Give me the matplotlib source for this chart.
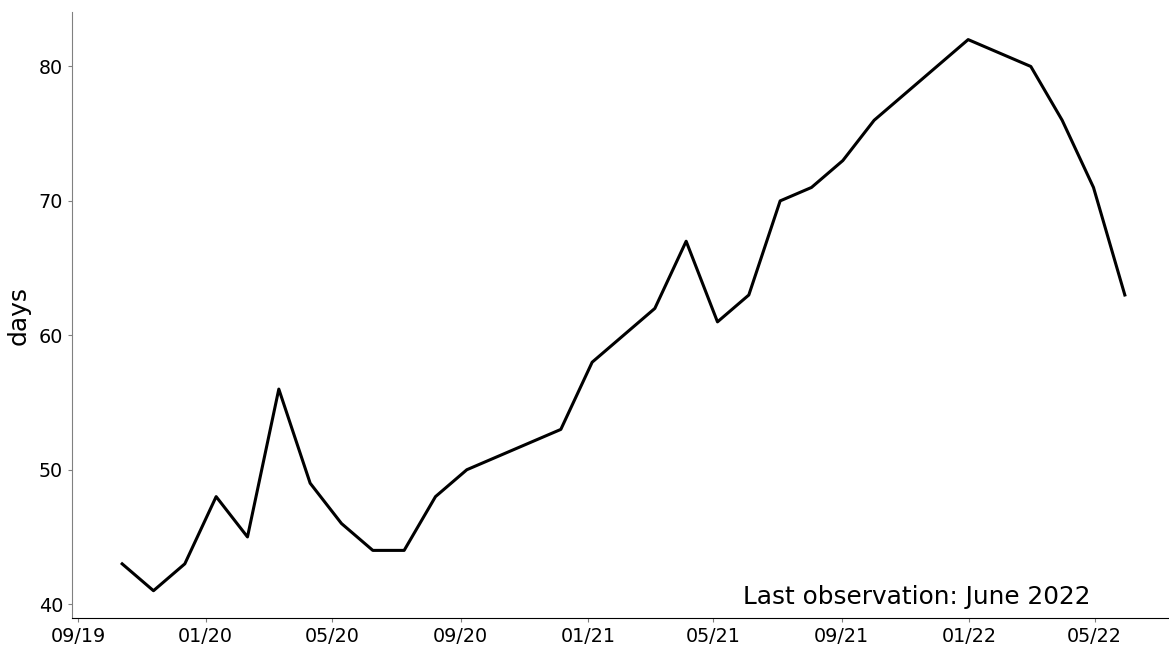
import pandas as pd
import matplotlib
matplotlib.use("Agg")
import matplotlib.pyplot as plt
import matplotlib.dates as mdates

# observations come roughly every 30 days, Oct 2019 -> Jun 2022
dates = pd.date_range("2019-10-13", periods=33, freq="30D")
days = [43, 41, 43, 48, 45, 56, 49, 46, 44, 44, 48, 50,
        51, 52, 53, 58, 60, 62, 67, 61, 63, 70, 71, 73,
        76, 78, 80, 82, 81, 80, 76, 71, 63]
note = "Last observation: June 2022"

fig = plt.figure(figsize=(11.69, 6.47), dpi=100)
ax = fig.add_axes([0.0616, 0.0444, 0.9435, 0.937])

ax.plot(dates, days, color="black", linewidth=2.2)

ax.xaxis.set_major_locator(mdates.MonthLocator(bymonth=[1, 5, 9]))
ax.xaxis.set_major_formatter(mdates.DateFormatter("%m/%y"))
ax.set_yticks([40, 50, 60, 70, 80])

ax.spines["top"].set_visible(False)
ax.spines["right"].set_visible(False)
ax.spines["left"].set_color("grey")
ax.tick_params(axis="both", labelsize=13.8, color="grey", length=3)

ax.set_ylabel("days", fontsize=18, labelpad=6)
ax.text(0.923, 0.0236, note, transform=ax.transAxes, ha="right",
        va="baseline", fontsize=17.8)

fig.savefig("out.png", dpi=100)
